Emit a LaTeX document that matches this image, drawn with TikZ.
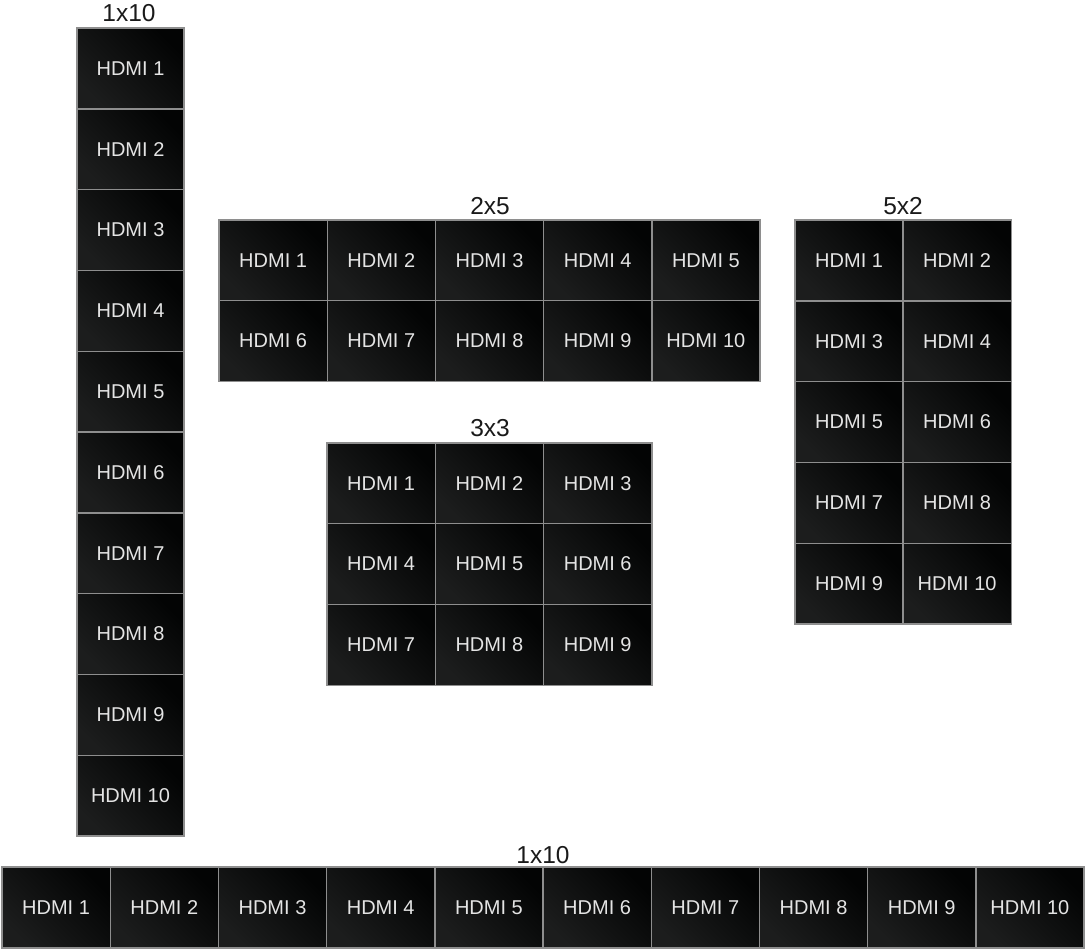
\documentclass[tikz,border=0pt]{standalone}
\usepackage{fontspec}
\setmainfont{Liberation Sans}
\definecolor{cellfill}{HTML}{1C1D1D}
\definecolor{celldark}{HTML}{030404}
\definecolor{cellline}{HTML}{8E8E8E}
\definecolor{celltext}{HTML}{E4E4E4}
\definecolor{labeltext}{HTML}{1A1A1A}
\tikzset{
  cellbox/.style={draw=cellline, line width=1.4pt, top color=celldark, middle color=cellfill, bottom color=cellfill, shading angle=-45,
    minimum width=108.2pt, minimum height=80.8pt, inner sep=0pt, outer sep=0pt,
    text=celltext, font=\fontsize{20}{22}\selectfont, anchor=north west},
  gridlabel/.style={text=labeltext, font=\fontsize{24.5}{26}\selectfont, inner sep=0pt}
}
\begin{document}
\begin{tikzpicture}[x=1pt,y=-1pt]
\useasboundingbox (0,0) rectangle (1086,951);
% vertical 1x10
\node[gridlabel] (lv) at (129,13) {1x10};
\foreach \i in {1,...,10}{
  \node[cellbox, minimum width=107pt] (v\i) at (77,{28+80.8*(\i-1)}) {HDMI \i};
}
% 2x5
\node[gridlabel] (la) at (490,206) {2x5};
\foreach \i in {1,...,10}{
  \pgfmathtruncatemacro{\c}{mod(\i-1,5)}
  \pgfmathtruncatemacro{\r}{div(\i-1,5)}
  \node[cellbox] (a\i) at ({219+108.2*\c},{220+80.5*\r}) {HDMI \i};
}
% 3x3
\node[gridlabel] (lb) at (490,428) {3x3};
\foreach \i in {1,...,9}{
  \pgfmathtruncatemacro{\c}{mod(\i-1,3)}
  \pgfmathtruncatemacro{\r}{div(\i-1,3)}
  \node[cellbox] (b\i) at ({327+108.3*\c},{443+80.7*\r}) {HDMI \i};
}
% 5x2
\node[gridlabel] (lc) at (903,206) {5x2};
\foreach \i in {1,...,10}{
  \pgfmathtruncatemacro{\c}{mod(\i-1,2)}
  \pgfmathtruncatemacro{\r}{div(\i-1,2)}
  \node[cellbox] (c\i) at ({795+108*\c},{220+80.8*\r}) {HDMI \i};
}
% horizontal 1x10
\node[gridlabel] (lh) at (543,855) {1x10};
\foreach \i in {1,...,10}{
  \node[cellbox, minimum height=81pt] (h\i) at ({2+108.2*(\i-1)},867) {HDMI \i};
}
\end{tikzpicture}
\end{document}
